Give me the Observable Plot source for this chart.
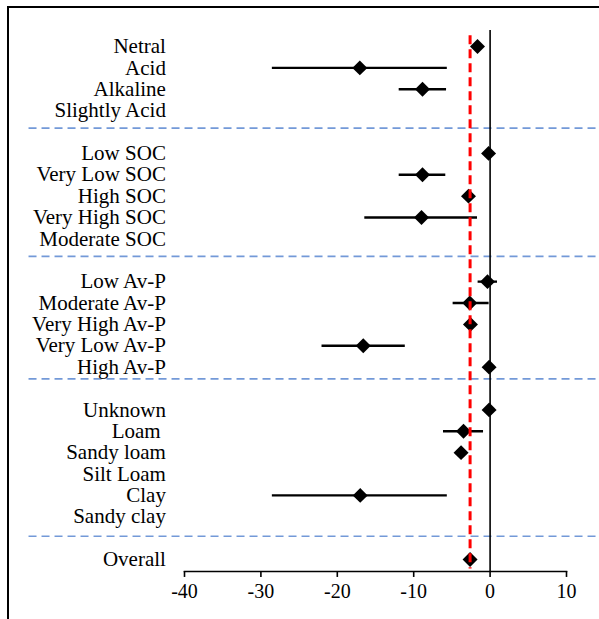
<!DOCTYPE html>
<html>
<head>
<meta charset="utf-8">
<script src="https://cdn.jsdelivr.net/npm/d3@7"></script>
<script src="https://cdn.jsdelivr.net/npm/@observablehq/plot@0.6"></script>
<style>
  html, body { margin: 0; padding: 0; background: #fff; overflow: hidden; }
  #wrap { position: relative; width: 599px; height: 619px; }
  #box { position: absolute; left: 7px; top: 6px; width: 700px; height: 700px;
         border-left: 2px solid #000; border-top: 2px solid #000; pointer-events: none; }
</style>
</head>
<body>
<div id="wrap"><div id="box"></div></div>
<script>
// Row labels (top to bottom) and their row positions (blank rows between groups)
const labels = ["Netral", "Acid", "Alkaline", "Slightly Acid",
  "Low SOC", "Very Low SOC", "High SOC", "Very High SOC", "Moderate SOC",
  "Low Av-P", "Moderate Av-P", "Very High Av-P", "Very Low Av-P", "High Av-P",
  "Unknown", "Loam\u00a0", "Sandy loam", "Silt Loam", "Clay", "Sandy clay",
  "Overall"];
const rows = [0, 1, 2, 3, 5, 6, 7, 8, 9, 11, 12, 13, 14, 15, 17, 18, 19, 20, 21, 22, 24];
// Effect sizes and confidence limits (null = not shown)
const effects = [-1.65, -17.05, -8.85, null,
  -0.2, -8.85, -2.83, -8.98, null,
  -0.34, -2.66, -2.57, -16.6, -0.13,
  -0.13, -3.48, -3.8, null, -17.0, null,
  -2.62];
const lower = [null, -28.5, -11.9, null,
  null, -11.9, null, -16.4, null,
  -1.57, -4.84, null, -22.0, null,
  null, -6.1, null, null, -28.5, null,
  null];
const upper = [null, -5.6, -5.7, null,
  null, -5.8, null, -1.65, null,
  0.97, -0.13, null, -11.1, null,
  null, -0.86, null, null, -5.6, null,
  null];
// Group separator positions (in row units) and the overall mean effect
const separators = [3.82, 9.82, 15.55, 22.91];
const overallMean = -2.62;
const xTicks = [-40, -30, -20, -10, 0, 10];
const xTickLabels = ["-40", "-30", "-20", "-10", "0", "10"];

const data = labels.map((label, i) => ({
  label, row: rows[i], effect: effects[i], lo: lower[i], hi: upper[i]
}));
const ticks = xTicks.map((v, i) => ({ v, label: xTickLabels[i] }));
const serif = "Liberation Serif";

const chart = Plot.plot({
  width: 599,
  height: 619,
  marginLeft: 184,
  marginRight: 33,
  marginTop: 0,
  marginBottom: 48,
  style: { fontFamily: serif, fontSize: "21px", color: "#000", background: "transparent" },
  x: { domain: [-40, 10], axis: null },
  y: { domain: [0, 24], range: [46, 559], axis: null },
  marks: [
    Plot.ruleY(separators, { x1: -60.35, x2: 14.06, stroke: "#7399d8", strokeWidth: 1.6, strokeDasharray: "8,5" }),
    Plot.ruleX([0], { y1: -0.75, y2: 24.56, stroke: "#000", strokeWidth: 1.6 }),
    Plot.ruleY(data.filter(d => d.lo != null), { y: "row", x1: "lo", x2: "hi", stroke: "#000", strokeWidth: 2.3 }),
    Plot.dot(data.filter(d => d.effect != null), { x: "effect", y: "row", symbol: "diamond2", r: 6.75, fill: "#000", stroke: "none" }),
    Plot.ruleX([overallMean], { y1: -0.5, y2: 24.45, stroke: "#ff0000", strokeWidth: 3, strokeDasharray: "9,5" }),
    Plot.frame({ anchor: "bottom", stroke: "#000", strokeWidth: 1.6 }),
    Plot.ruleX(xTicks, { y1: 24.56, y2: 24.84, stroke: "#000", strokeWidth: 1.6 }),
    Plot.text(ticks, { x: "v", text: "label", frameAnchor: "bottom", lineAnchor: "top", dy: 12, fontSize: 20, fontFamily: serif, fill: "#000" }),
    Plot.text(data, { y: "row", text: "label", frameAnchor: "left", textAnchor: "end", dx: -18.6, fontSize: 21, fontFamily: serif, fill: "#000" })
  ]
});
document.getElementById("wrap").prepend(chart);
</script>
</body>
</html>
